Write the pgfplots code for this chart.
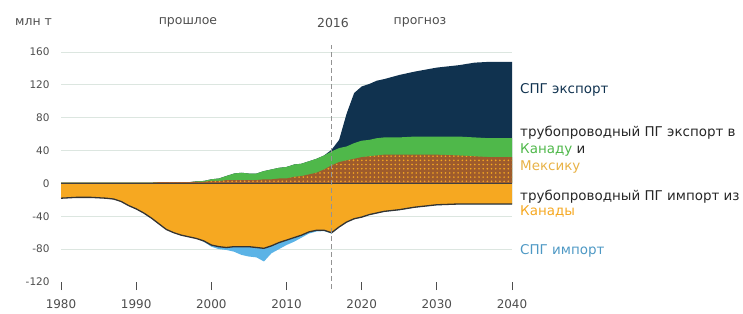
\documentclass[border=0pt]{standalone}
\usepackage{fontspec}
\setmainfont{DejaVu Sans}
\usepackage{pgfplots}
\pgfplotsset{compat=1.18}
\usepackage{pgfplotstable}
\usetikzlibrary{patterns}

\definecolor{navy}{HTML}{10324F}
\definecolor{grn}{HTML}{4FB84A}
\definecolor{brn}{HTML}{9E5B2C}
\definecolor{org}{HTML}{F6A821}
\definecolor{lblue}{HTML}{5BB3E6}
\definecolor{txt}{HTML}{4D4D4D}
\definecolor{gridc}{HTML}{DCE6E0}
\definecolor{gold}{HTML}{E8B246}

\pgfdeclarepatternformonly{bdots}{\pgfqpoint{-1pt}{-1pt}}{\pgfqpoint{5pt}{5pt}}{\pgfqpoint{4.2pt}{4.2pt}}{\pgfpathcircle{\pgfqpoint{2pt}{2pt}}{0.9pt}\pgfusepath{fill}}

\pgfplotstableread{
year mex can lng imp limp
1980 1 0 0 18 0
1982 1 0 0 17 0
1984 1 0 0 17 0
1986 1 0 0 18 0
1987 1 0 0 19 0
1988 1 0 0 22 0
1989 1 0 0 27 0
1990 1 0 0 31 0
1991 1 0 0 36 0
1992 1 0 0 42 0
1993 1.5 0 0 49 0
1994 1.5 0 0 56 0
1995 1.5 0 0 60 0
1996 1.5 0 0 63 0
1997 1.5 0 0 65 0
1998 2 0.5 0 67 0
1999 2 1 0 70 1
2000 3 2 0 75 2
2001 3 3 0 77 3
2002 4 5 0 78 3
2003 4 8 0 77 6
2004 4 9 0 77 10
2005 4 8 0 77 12
2006 4 8 0 78 12
2007 5 10 0 79 16
2008 5 12 0 76 9
2009 6 13 0 72 8
2010 6 14 0 69 6
2011 8 15 0 66 5
2012 9 15 0 63 3
2013 11 16 0 59 2
2014 13 17 0 57 1.5
2015 17 17 0 57 1
2016 22 17 2 60 1
2017 26 17 10 53 0.5
2018 28 17 40 47 0.5
2019 30 19 61 43 0.5
2020 32 20 66 41 0.5
2021 33 20 68 38 0.5
2022 34 21 70 36 0.5
2023 35 21 71 34 0.5
2025 35 21 76 32 0.5
2027 35 22 79 29 0.5
2030 35 22 84 26 0.5
2033 34 23 87 25 0.5
2035 33 23 91 25 0.5
2037 32 23 93 25 0.5
2040 32 23 93 25 0.5
}\data

\begin{document}
\begin{tikzpicture}[x=1bp,y=1bp]
\path[use as bounding box] (0,0) rectangle (743,313);
\begin{axis}[
  at={(61bp,31bp)}, anchor=south west, scale only axis,
  width=451bp, height=236.6bp,
  xmin=1980, xmax=2040, ymin=-120, ymax=168,
  axis line style={draw=none},
  xtick={1980,1990,...,2040}, xtick pos=bottom, xtick align=outside,
  major tick length=8bp,
  x tick style={draw=txt, line width=0.8bp},
  ytick={-80,-40,0,40,80,120,160}, extra y ticks={-120},
  extra y tick style={grid=none},
  ymajorgrids, grid style={gridc, line width=0.8bp},
  y tick style={draw=none},
  /pgf/number format/assume math mode=true,
  /pgf/number format/set thousands separator={},
  x tick label style={font=\fontsize{12}{13}\selectfont, text=txt, yshift=-6bp},
  y tick label style={font=\fontsize{10.5}{12}\selectfont, text=txt, xshift=-8bp},
  clip=false,
]
\addplot[fill=navy, draw=none] table[x=year, y expr=\thisrow{mex}+\thisrow{can}+\thisrow{lng}] {\data} \closedcycle;
\addplot[fill=grn, draw=none] table[x=year, y expr=\thisrow{mex}+\thisrow{can}] {\data} \closedcycle;
\addplot[fill=brn, draw=none, postaction={pattern=bdots, pattern color=org}] table[x=year, y=mex] {\data} \closedcycle;
\addplot[fill=lblue, draw=none] table[x=year, y expr=-\thisrow{imp}-\thisrow{limp}] {\data} \closedcycle;
\addplot[fill=org, draw=none] table[x=year, y expr=-\thisrow{imp}] {\data} \closedcycle;
\addplot[draw=black!80, line width=1.3bp] table[x=year, y expr=-\thisrow{imp}] {\data};
\draw[black!75, line width=1.5bp] (axis cs:1980,0) -- (axis cs:2040,0);
\draw[dash pattern=on 5bp off 3bp, color=gray!85, line width=1bp] (axis cs:2016,-128) -- (axis cs:2016,168);
\end{axis}
\tikzset{hdr/.style={font=\fontsize{12.5}{14}\selectfont, text=txt, inner sep=0pt},
  lab/.style={font=\fontsize{13.5}{15}\selectfont, anchor=west, inner sep=0pt, text=black!85}}
\node[hdr, anchor=west] at (15,291) {млн т};
\node[hdr] at (188,291) {прошлое};
\node[hdr] at (333,290) {2016};
\node[hdr] at (420,291) {прогноз};
\node[lab, text=navy] at (520,223) {СПГ экспорт};
\node[lab] at (520,180) {трубопроводный ПГ экспорт в};
\node[lab] at (520,163) {\textcolor{grn}{Канаду} и};
\node[lab, text=gold] at (520,146) {Мексику};
\node[lab] at (520,116) {трубопроводный ПГ импорт из};
\node[lab, text=org] at (520,101) {Канады};
\node[lab, text=lblue!85!black] at (520,62) {СПГ импорт};
\end{tikzpicture}
\end{document}
